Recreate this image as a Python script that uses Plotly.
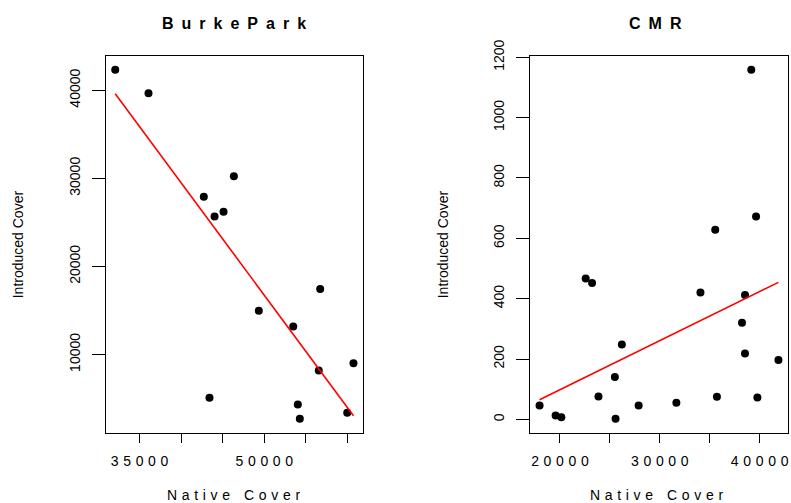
import numpy as np
import plotly.graph_objects as go

# ---- data ----
bp_native = [32080, 36080, 42730, 44020, 45100, 46340, 49340, 43410, 53480,
             56720, 56550, 60720, 54030, 54270, 59970]
bp_intro = [42340, 39660, 27900, 25680, 26200, 30250, 14980, 5090, 13170,
            17440, 8180, 9020, 4330, 2710, 3390]

cmr_native = [17960, 19570, 20140, 22580, 23220, 23860, 25500, 25570, 26200,
              27880, 31660, 34070, 35720, 35550, 39160, 39640, 38230, 38530,
              38530, 39770, 41880]
cmr_intro = [46, 13, 7, 467, 452, 76, 140, 2, 248, 46, 55, 420, 75, 628,
             1159, 672, 320, 412, 218, 72, 197]

bp_xticks = [35000, 40000, 45000, 50000, 55000, 60000]
bp_xticklabels = ["35000", "", "", "50000", "", ""]
bp_yticks = [10000, 20000, 30000, 40000]
cmr_xticks = [20000, 25000, 30000, 35000, 40000]
cmr_xticklabels = ["20000", "", "30000", "", "40000"]
cmr_yticks = [0, 200, 400, 600, 800, 1000, 1200]

titles = ["BurkePark", "CMR"]
x_title = "Native Cover"
y_title = "Introduced Cover"

FONT = "Liberation Sans, Arial, sans-serif"
W, H = 791, 503


def spaced(s, sep="\u2004"):
    out = []
    for ch in s:
        if ch == " ":
            out.append(sep)
        else:
            out.append(ch)
    return sep.join(out)


def rng(v):
    lo, hi = min(v), max(v)
    pad = (hi - lo) * 0.04
    return [lo - pad, hi + pad]


def fit_line(x, y):
    m, b = np.polyfit(x, y, 1)
    xs = np.array([min(x), max(x)])
    return xs, m * xs + b


fig = go.Figure()

for i, (xv, yv) in enumerate([(bp_native, bp_intro), (cmr_native, cmr_intro)]):
    xa = "x" if i == 0 else "x2"
    ya = "y" if i == 0 else "y2"
    fig.add_trace(go.Scatter(x=xv, y=yv, mode="markers", xaxis=xa, yaxis=ya,
                             marker=dict(color="black", size=8, symbol="circle"),
                             showlegend=False, hoverinfo="skip"))
    lx, ly = fit_line(xv, yv)
    fig.add_trace(go.Scatter(x=lx, y=ly, mode="lines", xaxis=xa, yaxis=ya,
                             line=dict(color="#ff0000", width=1.6),
                             showlegend=False, hoverinfo="skip"))

# panel pixel boxes
left_box = (105.7, 363.0)
right_box = (530.0, 788.0)
top_px, bot_px = 55.7, 432.7
ydom = [1 - bot_px / H, 1 - top_px / H]

common_x = dict(showline=True, linecolor="black", linewidth=1, mirror=True,
                ticks="outside", ticklen=9, tickcolor="black", tickwidth=1,
                showgrid=False, zeroline=False, automargin=False,
                tickfont=dict(family=FONT, size=14, color="black"),
                ticklabelstandoff=6)
common_y = dict(showline=True, linecolor="black", linewidth=1, mirror=True,
                ticks="outside", ticklen=13, tickcolor="black", tickwidth=1,
                showgrid=False, zeroline=False, tickangle=-90, automargin=False,
                tickfont=dict(family=FONT, size=14, color="black"),
                ticklabelstandoff=6)

fig.update_layout(
    width=W, height=H, margin=dict(l=0, r=0, t=0, b=0, autoexpand=False),
    paper_bgcolor="white", plot_bgcolor="white", showlegend=False,
    xaxis=dict(domain=[left_box[0] / W, left_box[1] / W], range=rng(bp_native),
               tickvals=bp_xticks, ticktext=[spaced(t) for t in bp_xticklabels],
               anchor="y", **common_x),
    yaxis=dict(domain=ydom, range=rng(bp_intro), tickvals=bp_yticks,
               ticktext=[str(t) for t in bp_yticks], anchor="x", **common_y),
    xaxis2=dict(domain=[right_box[0] / W, right_box[1] / W], range=rng(cmr_native),
                tickvals=cmr_xticks, ticktext=[spaced(t) for t in cmr_xticklabels],
                anchor="y2", **common_x),
    yaxis2=dict(domain=ydom, range=rng(cmr_intro), tickvals=cmr_yticks,
                ticktext=[str(t) for t in cmr_yticks], anchor="x2", **common_y),
)

ann = []
title_x = [234, 655]
xlab_x = [233.3, 656.7]
ylab_x = [18.3, 443.3]
for i in range(2):
    ann.append(dict(text="<b>" + spaced(titles[i], "\u2002") + "</b>", x=title_x[i] / W,
                    y=1 - 23 / H, xref="paper", yref="paper", xanchor="center",
                    yanchor="middle", showarrow=False,
                    font=dict(family=FONT, size=16, color="black")))
    ann.append(dict(text=spaced(x_title), x=xlab_x[i] / W, y=1 - 495 / H,
                    xref="paper", yref="paper", xanchor="center", yanchor="middle",
                    showarrow=False, font=dict(family=FONT, size=14, color="black")))
    ann.append(dict(text=y_title, x=ylab_x[i] / W, y=1 - 244 / H, textangle=-90,
                    xref="paper", yref="paper", xanchor="center", yanchor="middle",
                    showarrow=False, font=dict(family=FONT, size=14, color="black")))
fig.update_layout(annotations=ann)

fig.write_html("out.html")
